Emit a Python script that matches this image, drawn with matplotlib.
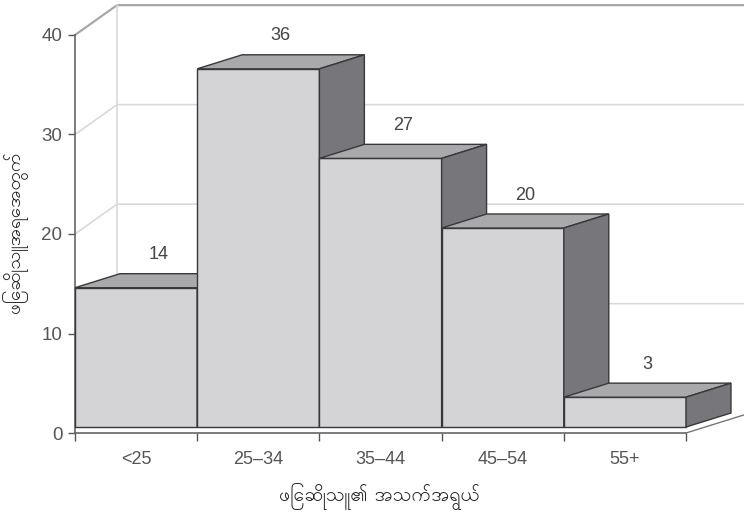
import matplotlib
matplotlib.use('Agg')
import matplotlib.pyplot as plt
from matplotlib.patches import Polygon

# data
categories = ['<25', '25–34', '35–44', '45–54', '55+']
counts = [14, 36, 27, 20, 3]
yticks = [0, 10, 20, 30, 40]
xlabel = 'ဖြေဆိုသူ၏ အသက်အရွယ်'
ylabel = 'ဖြေဆိုသူအရေအတွက်'

# styling for the fake 3D look
front_col = '#d4d4d6'
top_col = '#a9a9ab'
side_col = '#77777b'
edge_col = '#38383a'
bar_dx, bar_dy = 0.368, 1.41     # bar depth (x in categories, y in counts)
wall_dx, wall_dy = 0.344, 3.0    # back wall depth
floor_h = 0.6                    # floor slab thickness
x_right = 5.48                   # right edge of figure in data units

plt.rcParams['font.family'] = ['Liberation Sans', 'DejaVu Sans']
my_font = ['Padauk', 'Noto Sans Myanmar', 'DejaVu Sans']

fig = plt.figure(figsize=(7.44, 5.15), dpi=100)
ax = fig.add_axes([75 / 744, 82 / 515, 611 / 744, 398 / 515])
ax.set_xlim(0, 5)
ax.set_ylim(0, 40)

# back wall with gridlines
for v in yticks[1:]:
    top = v == yticks[-1]
    c = '#a8a8a8' if top else '#d9d9d9'
    lw = 1.6 if top else 1.2
    ax.plot([0, wall_dx, x_right], [v, v + wall_dy, v + wall_dy],
            color=c, lw=lw, clip_on=False, zorder=1)
ax.plot([wall_dx, wall_dx], [wall_dy, yticks[-1] + wall_dy],
        color='#d9d9d9', lw=1.2, clip_on=False, zorder=1)

# floor right edge
ax.plot([5, 5 + 0.47], [0, 1.8], color='#777777', lw=1.0, clip_on=False, zorder=1)

# bars, drawn left to right so the next bar hides the previous side face
for i, v in enumerate(counts):
    x0, x1 = i, i + 1
    b, t = floor_h, floor_h + v
    ax.bar(i + 0.5, v, width=1.0, bottom=b, color=front_col,
           edgecolor=edge_col, linewidth=1.0, zorder=3 + i * 3, clip_on=False)
    top_face = Polygon([(x0, t), (x0 + bar_dx, t + bar_dy),
                        (x1 + bar_dx, t + bar_dy), (x1, t)],
                       closed=True, facecolor=top_col, edgecolor=edge_col,
                       lw=1.0, zorder=3 + i * 3 + 1, clip_on=False)
    side_face = Polygon([(x1, b), (x1, t), (x1 + bar_dx, t + bar_dy),
                         (x1 + bar_dx, b + bar_dy)],
                        closed=True, facecolor=side_col, edgecolor=edge_col,
                        lw=1.0, zorder=3 + i * 3 + 1, clip_on=False)
    ax.add_patch(top_face)
    ax.add_patch(side_face)
    ax.text(i + 0.5 + bar_dx / 2, t + bar_dy + 1.9, str(v), ha='center',
            va='center', fontsize=13, color='#444444', zorder=30)

# axes
for s in ['top', 'right']:
    ax.spines[s].set_visible(False)
for s in ['left', 'bottom']:
    ax.spines[s].set_color('#666666')
    ax.spines[s].set_linewidth(1.2)
    ax.spines[s].set_zorder(2)

ax.set_yticks(yticks)
ax.tick_params(axis='y', direction='out', length=5, width=1.0, color='#555555',
               labelcolor='#555555', labelsize=13.5, pad=4)
ax.set_xticks(range(6))
ax.set_xticklabels([])
ax.set_xticks([i + 0.5 for i in range(5)], minor=True)
ax.set_xticklabels(categories, minor=True)
ax.tick_params(axis='x', which='major', direction='out', length=6, width=1.0,
               color='#555555')
ax.tick_params(axis='x', which='minor', length=0, labelcolor='#555555',
               labelsize=13, pad=13)

ax.set_xlabel(xlabel, family=my_font, fontsize=14, color='#222222', va='center')
ax.xaxis.set_label_coords(0.499, -0.156)
ax.set_ylabel(ylabel, family=my_font, fontsize=13.5, color='#222222', va='center')
ax.yaxis.set_label_coords(-0.098, 0.505)

fig.savefig('out.png', dpi=100)
